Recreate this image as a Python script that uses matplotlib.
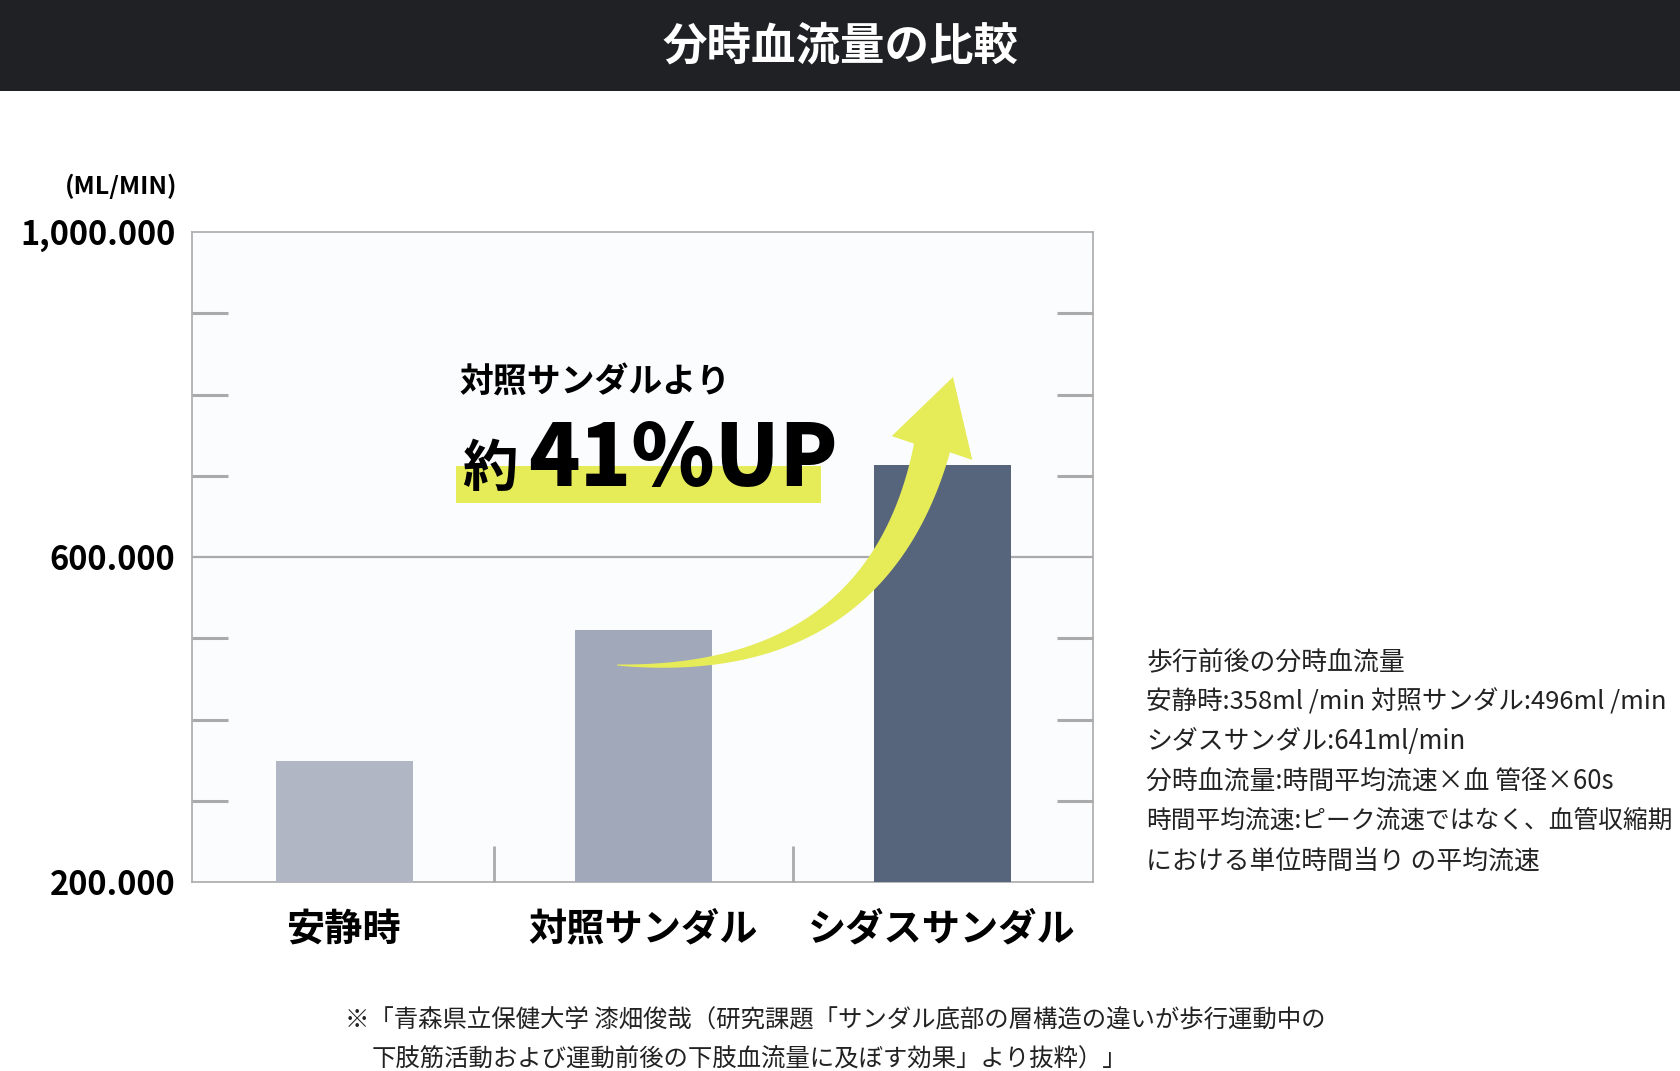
import numpy as np
import matplotlib
matplotlib.use("Agg")
import matplotlib.pyplot as plt
from matplotlib.patches import Rectangle, Polygon

plt.rcParams['font.family'] = ['Noto Sans CJK JP', 'DejaVu Sans']

# ---------------- data ----------------
title = "分時血流量の比較"
unit_label = "(ML/MIN)"
categories = ["安静時", "対照サンダル", "シダスサンダル"]
values = [349, 510, 713]            # bar heights as drawn (ml/min)
ytick_values = [200, 600, 1000]
ytick_labels = ["200.000", "600.000", "1,000.000"]
minor_yticks = [300, 400, 500, 700, 800, 900]
reference_line = 600
callout_small = "対照サンダルより"
callout_prefix = "約"
callout_big = "41%UP"
notes = [
    "歩行前後の分時血流量",
    "安静時:358ml /min 対照サンダル:496ml /min",
    "シダスサンダル:641ml/min",
    "分時血流量:時間平均流速×血 管径×60s",
    "時間平均流速:ピーク流速ではなく、血管収縮期",
    "における単位時間当り の平均流速",
]
footnote = [
    "※「青森県立保健大学 漆畑俊哉（研究課題「サンダル底部の層構造の違いが歩行運動中の",
    "下肢筋活動および運動前後の下肢血流量に及ぼす効果」より抜粋）」",
]

bar_colors = ["#b0b6c3", "#a0a8ba", "#56647c"]
yellow = "#e6eb58"
grey = "#aaaaaa"

W, H = 1680, 1071
fig = plt.figure(figsize=(W / 100, H / 100), dpi=100)
fig.patch.set_facecolor("white")

def fx(x):
    return x / W

def fy(y):
    return 1 - y / H

# header band
fig.add_artist(Rectangle((0, fy(91)), 1, 91 / H, transform=fig.transFigure,
                         facecolor="#202125", edgecolor="none", zorder=1))
fig.text(0.5, fy(46), title, color="white", fontsize=32, fontweight="bold",
         ha="center", va="center", zorder=2)

# ---------------- axes ----------------
ax_l, ax_r, ax_t, ax_b = 192, 1093, 232, 882
ax = fig.add_axes([fx(ax_l), fy(ax_b), (ax_r - ax_l) / W, (ax_b - ax_t) / H])
ax.set_facecolor("#fbfcfe")
x = np.arange(len(categories))
ax.bar(x, [v - 200 for v in values], bottom=200, width=0.458, color=bar_colors, zorder=3)
ax.axhline(reference_line, color=grey, lw=1.6, zorder=2)
ax.set_xlim(-0.51, 2.505)
ax.set_ylim(200, 1000)

for s in ax.spines.values():
    s.set_color(grey)
    s.set_linewidth(1.2)

ax.set_yticks(ytick_values, labels=ytick_labels)
ax.set_yticks(minor_yticks, minor=True)
ax.tick_params(axis="y", which="major", length=0, pad=12, labelsize=23.5)
for lab in ax.get_yticklabels():
    lab.set_fontweight("bold")
ax.tick_params(axis="y", which="minor", direction="in", length=26, width=2.2,
               color=grey, left=True, right=True)

ax.set_xticks(x, labels=categories)
ax.set_xticks([0.5, 1.5], minor=True)
ax.tick_params(axis="x", which="major", length=0, pad=20, labelsize=27.5)
for lab in ax.get_xticklabels():
    lab.set_fontweight("bold")
ax.tick_params(axis="x", which="minor", direction="in", length=26, width=2.0, color=grey)

fig.text(fx(177), fy(186), unit_label, fontsize=18, fontweight="bold",
         ha="right", va="center")

# ---------------- callout ----------------
fig.add_artist(Rectangle((fx(456), fy(503)), (821 - 456) / W, (503 - 466) / H,
                         transform=fig.transFigure, facecolor=yellow,
                         edgecolor="none", zorder=4))
fig.text(fx(459), fy(382), callout_small, fontsize=24.4, fontweight="bold",
         ha="left", va="center", zorder=6)
fig.text(fx(462), fy(486), callout_prefix, fontsize=40, fontweight="bold",
         ha="left", va="baseline", zorder=6)
fig.text(fx(528), fy(486), callout_big, fontsize=61, fontweight="black",
         ha="left", va="baseline", zorder=6)

# curved tapered arrow (pixel coordinates, y downward)
P0 = np.array([617, 665.0]); P1 = np.array([810, 675.0])
P2 = np.array([900, 580.0]); P3 = np.array([932, 448.0])
t = np.linspace(0, 1, 160)
B = ((1 - t) ** 3)[:, None] * P0 + (3 * t * (1 - t) ** 2)[:, None] * P1 \
    + (3 * t ** 2 * (1 - t))[:, None] * P2 + (t ** 3)[:, None] * P3
D = ((3 * (1 - t) ** 2))[:, None] * (P1 - P0) + (6 * t * (1 - t))[:, None] * (P2 - P1) \
    + (3 * t ** 2)[:, None] * (P3 - P2)
D = D / np.linalg.norm(D, axis=1)[:, None]
N = np.stack([D[:, 1], -D[:, 0]], axis=1)
w = 1 + 36 * t ** 0.9
left = B + N * (w / 2)[:, None]
right = B - N * (w / 2)[:, None]
head_dir = np.array([21.0, -71.0]); head_dir /= np.linalg.norm(head_dir)
head_n = np.array([head_dir[1], -head_dir[0]])
tip = P3 + head_dir * 74
barb_a = P3 + head_n * 42
barb_b = P3 - head_n * 42
pts = np.vstack([left, barb_a, tip, barb_b, right[::-1]])
pts_fig = np.column_stack([pts[:, 0] / W, 1 - pts[:, 1] / H])
fig.add_artist(Polygon(pts_fig, closed=True, transform=fig.transFigure,
                       facecolor=yellow, edgecolor="none", zorder=5))

# ---------------- notes ----------------
note_y = [662, 702, 741, 781, 821, 861]
note_sizes = [18.6, 18.4, 18.6, 18.6, 17.8, 18.6]
for yy, fs, line in zip(note_y, note_sizes, notes):
    fig.text(fx(1146), fy(yy), line, fontsize=fs, ha="left", va="center", color="#222222")

fig.text(fx(345), fy(1019), footnote[0], fontsize=17.6, ha="left", va="center", color="#222222")
fig.text(fx(372), fy(1059), footnote[1], fontsize=17.6, ha="left", va="center", color="#222222")

fig.savefig("out.png", dpi=100, facecolor="white")
